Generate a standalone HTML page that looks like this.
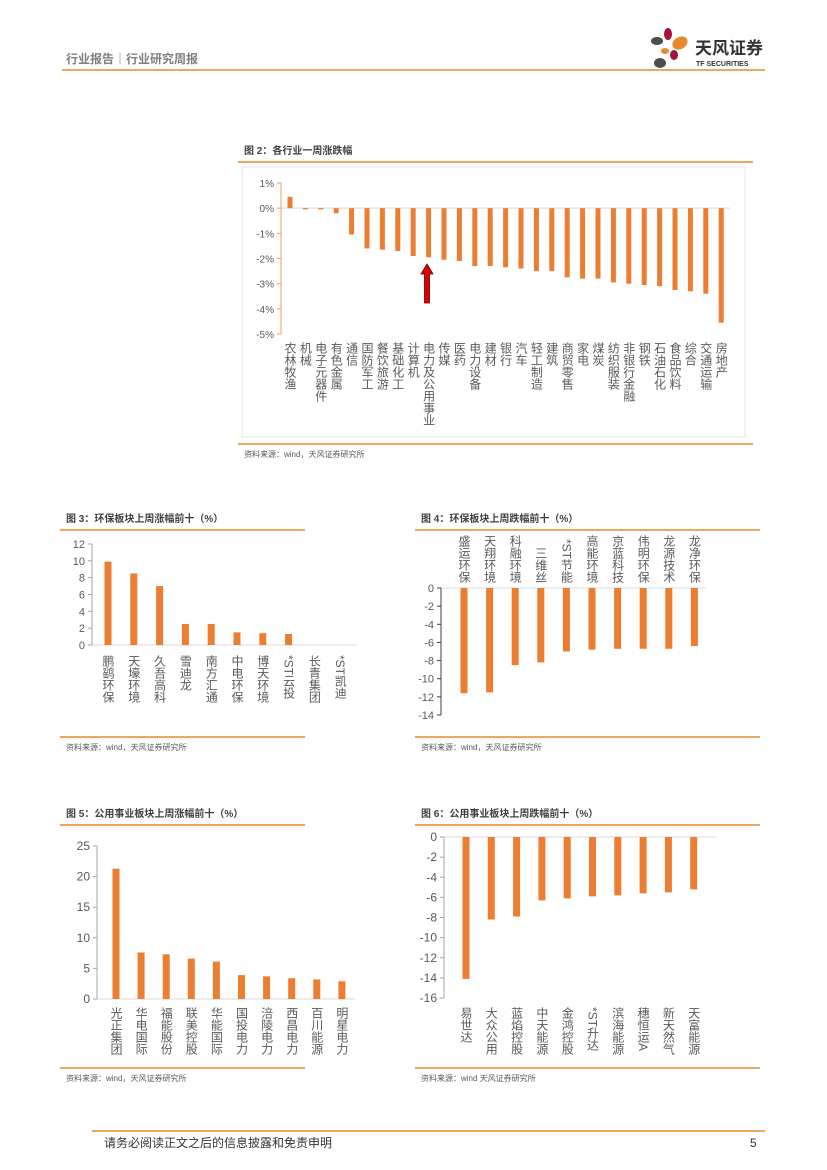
<!DOCTYPE html>
<html><head><meta charset="utf-8">
<style>
body{margin:0;background:#fff;}
svg{display:block;font-family:"Liberation Sans","Noto Sans CJK SC",sans-serif;}
</style></head>
<body>
<svg id="page" width="827" height="1170" viewBox="0 0 827 1170" xmlns="http://www.w3.org/2000/svg">
  <g>
    <text x="66" y="63" font-size="12" font-weight="bold" fill="#7f7f7f">行业报告｜行业研究周报</text>
    <line x1="62" y1="70" x2="765" y2="70" stroke="#E8892F" stroke-width="1.5"/>
    <g>
      <ellipse cx="668" cy="34" rx="4" ry="6" fill="#A6123A"/>
      <ellipse cx="657" cy="41" rx="6" ry="4" fill="#4d4d4d"/>
      <ellipse cx="680" cy="43" rx="8" ry="6" fill="#E8892F" transform="rotate(-30 680 43)"/>
      <ellipse cx="665" cy="51" rx="4" ry="3" fill="#E8892F"/>
      <ellipse cx="674" cy="55" rx="4" ry="5" fill="#A6123A"/>
      <ellipse cx="660" cy="63" rx="6" ry="5" fill="#4d4d4d"/>
      <text x="695" y="54" font-size="17" font-weight="bold" fill="#333">天风证券</text>
      <text x="696" y="66" font-size="7" font-weight="bold" fill="#333">TF SECURITIES</text>
    </g>
  </g>
  <g id="c2"></g>
  <g id="c3"></g>
  <g id="c4"></g>
  <g id="c5"></g>
  <g id="c6"></g>
  <g>
    <line x1="92" y1="1131" x2="765" y2="1131" stroke="#E8892F" stroke-width="1.5"/>
    <text x="104" y="1147" font-size="12" fill="#333">请务必阅读正文之后的信息披露和免责申明</text>
    <text x="750" y="1147" font-size="12" fill="#333">5</text>
  </g>
</svg>
<script>
// Chart 2 data
const c2Categories = ["农林牧渔","机械","电子元器件","有色金属","通信","国防军工","餐饮旅游","基础化工","计算机","电力及公用事业","传媒","医药","电力设备","建材","银行","汽车","轻工制造","建筑","商贸零售","家电","煤炭","纺织服装","非银行金融","钢铁","石油石化","食品饮料","综合","交通运输","房地产"];
const c2Values = [0.45,-0.05,-0.05,-0.2,-1.05,-1.6,-1.65,-1.7,-1.9,-1.95,-2.05,-2.1,-2.3,-2.3,-2.35,-2.4,-2.5,-2.5,-2.75,-2.8,-2.8,-2.95,-3.0,-3.05,-3.1,-3.25,-3.3,-3.4,-4.55];
const c2Ticks = [1,0,-1,-2,-3,-4,-5];
// Chart 3 data
const c3Categories = ["鹏鹞环保","天壕环境","久吾高科","雪迪龙","南方汇通","中电环保","博天环境","*ST云投","长青集团","*ST凯迪"];
const c3Values = [9.9,8.5,7.0,2.5,2.5,1.5,1.4,1.3,0,0];
const c3Ticks = [0,2,4,6,8,10,12];
// Chart 4 data
const c4Categories = ["盛运环保","天翔环境","科融环境","三维丝","*ST节能","高能环境","京蓝科技","伟明环保","龙源技术","龙净环保"];
const c4Values = [-11.6,-11.5,-8.5,-8.2,-7.0,-6.8,-6.7,-6.7,-6.7,-6.4];
const c4Ticks = [0,-2,-4,-6,-8,-10,-12,-14];
// Chart 5 data
const c5Categories = ["光正集团","华电国际","福能股份","联美控股","华能国际","国投电力","涪陵电力","西昌电力","百川能源","明星电力"];
const c5Values = [21.3,7.6,7.3,6.6,6.1,3.9,3.7,3.4,3.2,2.9];
const c5Ticks = [0,5,10,15,20,25];
// Chart 6 data
const c6Categories = ["易世达","大众公用","蓝焰控股","中天能源","金鸿控股","*ST升达","滨海能源","穗恒运A","新天然气","天富能源"];
const c6Values = [-14.1,-8.2,-7.9,-6.3,-6.1,-5.9,-5.8,-5.6,-5.5,-5.2];
const c6Ticks = [0,-2,-4,-6,-8,-10,-12,-14,-16];

const NS="http://www.w3.org/2000/svg";
function mk(parent,tag,attrs,text){const e=document.createElementNS(NS,tag);for(const k in attrs)e.setAttribute(k,attrs[k]);if(text!==undefined)e.textContent=text;parent.appendChild(e);return e;}

function chart(g,cfg,cats,vals,ticks){
  const ys=v=>cfg.y0+(v-cfg.vmin)*(cfg.y1-cfg.y0)/(cfg.vmax-cfg.vmin); // y0 at vmin? use linear map
  const y=v=>cfg.yTop+(cfg.vmax-v)*(cfg.yBot-cfg.yTop)/(cfg.vmax-cfg.vmin);
  const x=i=>cfg.x0+i*cfg.step;
  // title
  const t=mk(g,'text',{x:cfg.tx,y:cfg.ty,'font-size':10,'font-weight':'bold',fill:'#404040'},cfg.title);
  
  
  mk(g,'line',{x1:cfg.lx1,y1:cfg.ty+8,x2:cfg.lx2,y2:cfg.ty+8,stroke:'#E8892F','stroke-width':1.5});
  if(cfg.box) mk(g,'rect',{x:cfg.box[0],y:cfg.box[1],width:cfg.box[2],height:cfg.box[3],fill:'none',stroke:'#e6e6e6'});
  // zero line
  mk(g,'line',{x1:cfg.ax,y1:y(0),x2:cfg.zx2,y2:y(0),stroke:'#d9d9d9','stroke-width':1});
  // axis
  mk(g,'line',{x1:cfg.ax,y1:y(cfg.vmax),x2:cfg.ax,y2:y(cfg.vmin),stroke:cfg.axColor,'stroke-width':1});
  ticks.forEach(v=>{
    mk(g,'line',{x1:cfg.ax-4,y1:y(v),x2:cfg.ax,y2:y(v),stroke:cfg.axColor});
    const tl=mk(g,'text',{x:cfg.ax-7,y:y(v)+4,'font-size':cfg.tickFs,'text-anchor':'end',fill:'#595959'},v+cfg.unit);
    
    
  });
  cats.forEach((c,i)=>{
    const v=vals[i];
    const r=mk(g,'rect',{x:x(i)-cfg.bw/2,y:Math.min(y(v),y(0)),width:cfg.bw,height:Math.abs(y(v)-y(0)),fill:'#ED7D31'});
    
    
    const lab=mk(g,'text',{x:x(i),y:cfg.labTop,'font-size':cfg.labFs,fill:'#595959','writing-mode':'tb','glyph-orientation-vertical':0,'text-anchor':cfg.labAnchor||'start',style:'writing-mode:vertical-rl;letter-spacing:0px'},c);
    
    
  });
  const s=mk(g,'text',{x:cfg.tx,y:cfg.srcY+13,'font-size':8,fill:'#595959'},cfg.src);
  
  
  mk(g,'line',{x1:cfg.lx1,y1:cfg.srcY,x2:cfg.lx2,y2:cfg.srcY,stroke:'#E8892F','stroke-width':1.5});
}

chart(document.getElementById('c2'),{title:'图 2：各行业一周涨跌幅',tx:244,ty:154,lx1:238,lx2:753,box:[242,167,503,270],
  vmax:1,vmin:-5,yTop:183,yBot:334,ax:281,zx2:730,axColor:'#F0A060',unit:'%',tickFs:10,
  x0:290,step:15.4,bw:5,labTop:342,labFs:12,src:'资料来源：wind，天风证券研究所',srcY:444},c2Categories,c2Values,c2Ticks);
chart(document.getElementById('c3'),{title:'图 3：环保板块上周涨幅前十（%）',tx:66,ty:522,lx1:60,lx2:305,
  vmax:12,vmin:0,yTop:544,yBot:645,ax:92,zx2:357,axColor:'#a6a6a6',unit:'',tickFs:11,
  x0:108,step:25.8,bw:7,labTop:655,labFs:12,src:'资料来源：wind，天风证券研究所',srcY:737},c3Categories,c3Values,c3Ticks);
chart(document.getElementById('c4'),{title:'图 4：环保板块上周跌幅前十（%）',tx:421,ty:522,lx1:415,lx2:760,
  vmax:0,vmin:-14,yTop:588,yBot:715,ax:441,zx2:706,axColor:'#404040',unit:'',tickFs:11,
  x0:464,step:25.6,bw:7,labTop:583,labFs:12,labAnchor:'end',src:'资料来源：wind，天风证券研究所',srcY:737},c4Categories,c4Values,c4Ticks);
chart(document.getElementById('c5'),{title:'图 5：公用事业板块上周涨幅前十（%）',tx:66,ty:817,lx1:60,lx2:305,
  vmax:25,vmin:0,yTop:846,yBot:999,ax:97,zx2:355,axColor:'#a6a6a6',unit:'',tickFs:12,
  x0:116,step:25.1,bw:7,labTop:1007,labFs:12,src:'资料来源：wind，天风证券研究所',srcY:1068},c5Categories,c5Values,c5Ticks);
chart(document.getElementById('c6'),{title:'图 6：公用事业板块上周跌幅前十（%）',tx:421,ty:817,lx1:415,lx2:760,
  vmax:0,vmin:-16,yTop:837,yBot:998,ax:444,zx2:716,axColor:'#a6a6a6',unit:'',tickFs:12,
  x0:466,step:25.3,bw:7,labTop:1007,labFs:12,src:'资料来源：wind 天风证券研究所',srcY:1068},c6Categories,c6Values,c6Ticks);

// red arrow in chart 2
const c2=document.getElementById('c2');
const arrow=mk(c2,'path',{d:'M427 264 L433 274 L429.5 274 L429.5 303 L424.5 303 L424.5 274 L421 274 Z',fill:'#E00000',stroke:'#600','stroke-width':0.8});


</script>
</body></html>
